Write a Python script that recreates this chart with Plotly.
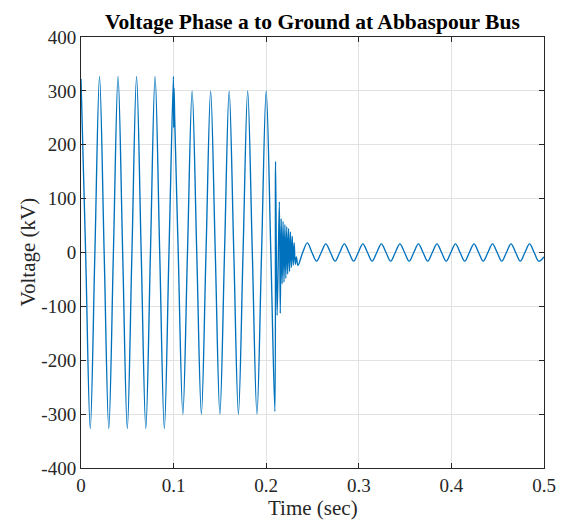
import plotly.graph_objects as go

# ---- data (time in s, voltage in kV) ----
pre_t = [0.0, 0.005, 0.01, 0.015, 0.02, 0.025, 0.03, 0.035, 0.04, 0.045, 0.05,
         0.055, 0.06, 0.065, 0.07, 0.075, 0.08, 0.085, 0.09, 0.095, 0.0998]
pre_v = [322, 0, -327, 0, 327, 0, -327, 0, 327, 0, -327,
         0, 327, 0, -327, 0, 327, 0, -327, 0, 327]

dist_t = [0.1001, 0.1005, 0.1012]
dist_v = [232, 305, 248]

mid_t = [0.105, 0.11, 0.115, 0.12, 0.125, 0.13, 0.135, 0.14, 0.145, 0.15, 0.155,
         0.16, 0.165, 0.17, 0.175, 0.18, 0.185, 0.19, 0.195, 0.2, 0.205]
mid_v = [0, -300, 0, 300, 0, -300, 0, 300, 0, -300, 0,
         300, 0, -300, 0, 300, 0, -300, 0, 300, 0]

fault_t = [0.2094, 0.2101, 0.2118, 0.2142, 0.2152, 0.2162, 0.2172, 0.2182, 0.2192,
           0.2202, 0.2212, 0.2222, 0.2232, 0.2242, 0.2252, 0.2262, 0.2272, 0.2282,
           0.2292, 0.2302, 0.2314, 0.2326, 0.2343, 0.2394]
fault_v = [-295, 169, -117, 94, -113, 63, -58, 58, -55, 52, -48, 48, -40, 44, -35, 38, -28, 30,
           -24, 18, -22, -8, -24, 0]

post_t = [0.2444, 0.2494, 0.2544, 0.2594, 0.2644, 0.2694, 0.2744, 0.2794, 0.2844,
          0.2894, 0.2944, 0.2994, 0.3044, 0.3094, 0.3144, 0.3194, 0.3244, 0.3294,
          0.3344, 0.3394, 0.3444, 0.3494, 0.3544, 0.3594, 0.3644, 0.3694, 0.3744,
          0.3794, 0.3844, 0.3894, 0.3944, 0.3994, 0.4044, 0.4094, 0.4144, 0.4194,
          0.4244, 0.4294, 0.4344, 0.4394, 0.4444, 0.4494, 0.4544, 0.4594, 0.4644,
          0.4694, 0.4744, 0.4794, 0.4844, 0.4894, 0.4944, 0.5]
post_v = [18, 0, -16, 0, 16, 0, -16, 0, 16,
          0, -16, 0, 16, 0, -16, 0, 16, 0,
          -16, 0, 16, 0, -16, 0, 16, 0, -16,
          0, 16, 0, -16, 0, 16, 0, -16, 0,
          16, 0, -16, 0, 16, 0, -16, 0, 16,
          0, -16, 0, 16, 0, -16, -8]

x_ticks = [0, 0.1, 0.2, 0.3, 0.4, 0.5]
x_tick_labels = ["0", "0.1", "0.2", "0.3", "0.4", "0.5"]
y_ticks = [-400, -300, -200, -100, 0, 100, 200, 300, 400]
y_tick_labels = ["-400", "-300", "-200", "-100", "0", "100", "200", "300", "400"]

t = pre_t + dist_t + mid_t + fault_t + post_t
v = pre_v + dist_v + mid_v + fault_v + post_v

FONT = "Liberation Serif, Times New Roman, serif"
AX = "#262626"

fig = go.Figure()
fig.add_trace(go.Scatter(x=t, y=v, mode="lines",
                         line=dict(color="#0072BD", width=1.35, shape="spline", smoothing=1),
                         hoverinfo="skip", showlegend=False))

axis_common = dict(showline=True, linecolor=AX, linewidth=1, mirror="ticks",
                   ticks="inside", ticklen=5, tickcolor=AX, tickwidth=1, automargin=False,
                   showgrid=True, gridcolor="#e2e2e2", gridwidth=1, zeroline=False,
                   tickfont=dict(family=FONT, size=19, color=AX))

fig.update_xaxes(range=[0, 0.5], tickvals=x_ticks, ticktext=x_tick_labels, **axis_common)
fig.update_yaxes(range=[-400, 400], tickvals=y_ticks, ticktext=y_tick_labels, **axis_common)

fig.update_layout(
    width=561, height=522, autosize=False,
    margin=dict(l=81, r=17, t=37, b=54, pad=0),
    paper_bgcolor="white", plot_bgcolor="white",
    annotations=[
        dict(text="<b>Voltage Phase a to Ground at Abbaspour Bus</b>", xref="paper", yref="paper",
             x=0.5, y=1.0, yshift=15, xanchor="center", yanchor="middle", showarrow=False,
             font=dict(family=FONT, size=21.5, color="black")),
        dict(text="Time (sec)", xref="paper", yref="paper", x=0.5, y=0, yshift=-40,
             xanchor="center", yanchor="middle", showarrow=False,
             font=dict(family=FONT, size=21, color=AX)),
        dict(text="Voltage (kV)", xref="paper", yref="paper", x=0, y=0.5, xshift=-54,
             xanchor="center", yanchor="middle", textangle=-90, showarrow=False,
             font=dict(family=FONT, size=21, color=AX)),
    ],
)

fig.write_html("out.html")
